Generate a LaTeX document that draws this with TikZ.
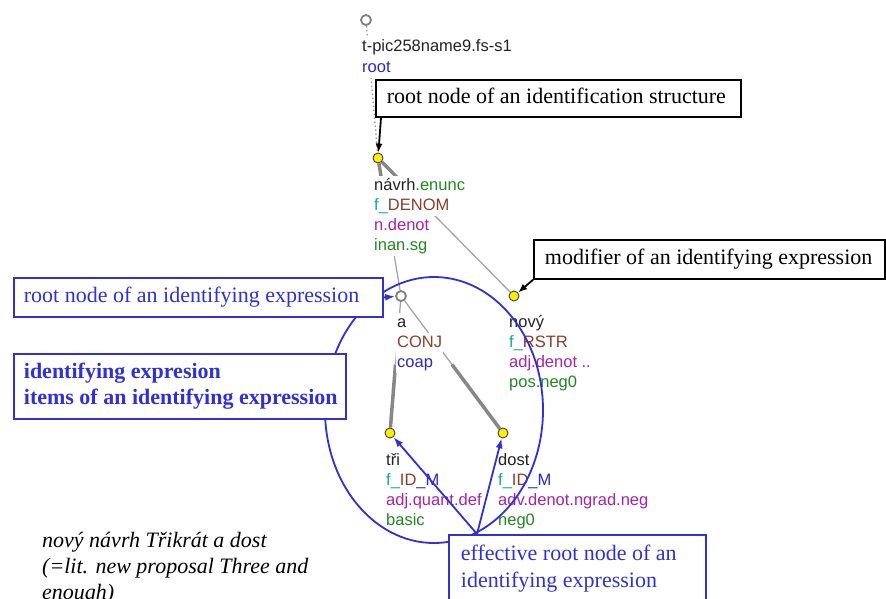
\documentclass[tikz,border=0pt]{standalone}
\usepackage{fontspec}
\setmainfont{Liberation Serif}
\newfontfamily\labfont{Liberation Sans}
\usetikzlibrary{arrows.meta,calc,shapes.geometric,backgrounds}
\definecolor{tblue}{RGB}{48,48,214}
\definecolor{lblue}{RGB}{40,40,200}
\definecolor{lgreen}{RGB}{34,135,34}
\definecolor{lteal}{RGB}{20,165,165}
\definecolor{lbrown}{RGB}{140,62,45}
\definecolor{lmag}{RGB}{165,35,165}
\definecolor{ltext}{RGB}{35,35,35}
\definecolor{edgegray}{RGB}{165,165,165}
\definecolor{thickgray}{RGB}{135,135,135}
\definecolor{nodeyellow}{RGB}{250,240,0}
\begin{document}
\begin{tikzpicture}[x=1pt,y=-1pt,
  lab/.style={font=\labfont\fontsize{16.5}{20}\selectfont, anchor=west, fill=white, inner xsep=1pt, inner ysep=1.5pt, text height=13pt, text depth=4pt, text=ltext},
  ynode/.style={circle, inner sep=0pt, minimum size=10pt, draw=black!75, line width=0.9pt, fill=nodeyellow},
  gnode/.style={circle, inner sep=0pt, minimum size=10pt, draw=gray, line width=1.8pt, fill=white},
  thinedge/.style={draw=edgegray, line width=1.3pt},
  thickedge/.style={draw=thickgray, line width=3.5pt},
  dotedge/.style={draw=gray!80, line width=1.4pt, dash pattern=on 1.4pt off 2.6pt},
  onebox/.style={draw, line width=1.8pt, fill=white, font=\fontsize{22}{26}\selectfont, align=left, text height=15pt, text depth=5pt, anchor=north west},
  multibox/.style={draw, line width=1.8pt, fill=white, align=left, anchor=north west},
  blk/.style={draw=black, text=black},
  blu/.style={draw=tblue, text=tblue},
  blackarrow/.style={draw=black, line width=1.8pt, -{Latex[length=9pt,width=7pt]}},
  bluearrow/.style={draw=tblue, line width=1.8pt, -{Latex[length=10pt,width=7pt]}},
]
\useasboundingbox (0,0) rectangle (886,598);
\clip (0,0) rectangle (886,598);

% tree nodes
\node[gnode] (T) at (366,20) {};
\node[ynode] (N) at (378,158) {};
\node[gnode] (A) at (401,296) {};
\node[ynode] (V) at (514,296) {};
\node[ynode] (R) at (390,433) {};
\node[ynode] (D) at (503,433) {};

% edges
\begin{pgfonlayer}{background}
\draw[dotedge] (T) -- (N);
\draw[thickedge] (N) -- ($(N)!0.5!(A)$);
\draw[thinedge] ($(N)!0.5!(A)$) -- (A);
\draw[thickedge] (N) -- ($(N)!0.4!(V)$);
\draw[thinedge] ($(N)!0.4!(V)$) -- (V);
\draw[thinedge] (A) -- ($(A)!0.5!(R)$);
\draw[thickedge] ($(A)!0.5!(R)$) -- (R);
\draw[thinedge] (A) -- ($(A)!0.5!(D)$);
\draw[thickedge] ($(A)!0.5!(D)$) -- (D);
\end{pgfonlayer}

% labels
\node[lab] (T1) at (361,47) {t-pic258name9.fs-s1};
\node[lab] (T2) at (361,68) {\textcolor{lblue}{root}};

\node[lab] (N1) at (373,186) {návrh\textcolor{lgreen}{.enunc}};
\node[lab] (N2) at (373,206) {\textcolor{lteal}{f\_}\textcolor{lbrown}{DENOM}};
\node[lab] (N3) at (373,226) {\textcolor{lmag}{n.denot}};
\node[lab] (N4) at (373,246) {\textcolor{lgreen}{inan.sg}};

\node[lab] (A1) at (396,323) {a};
\node[lab] (A2) at (396,343) {\textcolor{lbrown}{CONJ}};
\node[lab] (A3) at (396,363) {\textcolor{lblue}{coap}};

\node[lab] (V1) at (508,323) {nový};
\node[lab] (V2) at (508,343) {\textcolor{lteal}{f\_}\textcolor{lbrown}{RSTR}};
\node[lab] (V3) at (508,363) {\textcolor{lmag}{adj.denot ..}};
\node[lab] (V4) at (508,383) {\textcolor{lgreen}{pos.neg0}};

\node[lab] (R1) at (385,461) {tři};
\node[lab] (R2) at (385,481) {\textcolor{lteal}{f\_}\textcolor{lbrown}{ID}\textcolor{lblue}{\_M}};
\node[lab] (R3) at (385,501) {\textcolor{lmag}{adj.quant.def}};
\node[lab] (R4) at (385,521) {\textcolor{lgreen}{basic}};

\node[lab] (D1) at (497,461) {dost};
\node[lab] (D2) at (497,481) {\textcolor{lteal}{f\_}\textcolor{lbrown}{ID}\textcolor{lblue}{\_M}};
\node[lab] (D3) at (497,501) {\textcolor{lmag}{adv.denot.ngrad.neg}};
\node[lab] (D4) at (497,521) {\textcolor{lgreen}{neg0}};

% ellipse
\node[draw=tblue, line width=1.8pt, ellipse, inner sep=0pt, minimum width=218pt, minimum height=266pt] (ell) at (434,410) {};

% annotation boxes
\node[onebox, blk, inner xsep=11pt, inner ysep=8.5pt] (box1) at (375,79) {\makebox[343pt][l]{root node of an identification structure}};
\node[onebox, blk, inner xsep=11pt, inner ysep=9.5pt] (box2) at (533,239) {\makebox[329pt][l]{modifier of an identifying expression}};
\node[onebox, blu, inner xsep=10pt, inner ysep=9.5pt] (box3) at (13,277) {\makebox[349pt][l]{root node of an identifying expression}};
\node[multibox, blu, inner xsep=10pt, inner ysep=4pt, minimum height=65pt, font=\bfseries\fontsize{22}{26}\selectfont] (box4) at (13,353) {\makebox[312pt][l]{identifying expresion}\\\makebox[312pt][l]{items of an identifying expression}};
\node[multibox, blu, inner xsep=12pt, inner ysep=4pt, minimum height=68pt, font=\fontsize{22}{27}\selectfont] (box5) at (448,534) {\makebox[233pt][l]{effective root node of an}\\\makebox[233pt][l]{identifying expression}};

% caption
\node[anchor=north west, inner sep=0pt, align=left, font=\itshape\fontsize{22}{26}\selectfont] (cap) at (42,532) {nový návrh Třikrát a dost\\(=lit. new proposal Three and\\enough)};

% arrows
\draw[blackarrow] ([xshift=6pt]box1.south west) -- (N);
\draw[blackarrow] (box2.south west) -- (V);
\draw[bluearrow] (box3.east) -- (A);
\draw[bluearrow] ([xshift=29pt]box5.north west) -- (R);
\draw[bluearrow] ([xshift=29pt]box5.north west) -- (D);
\end{tikzpicture}
\end{document}
